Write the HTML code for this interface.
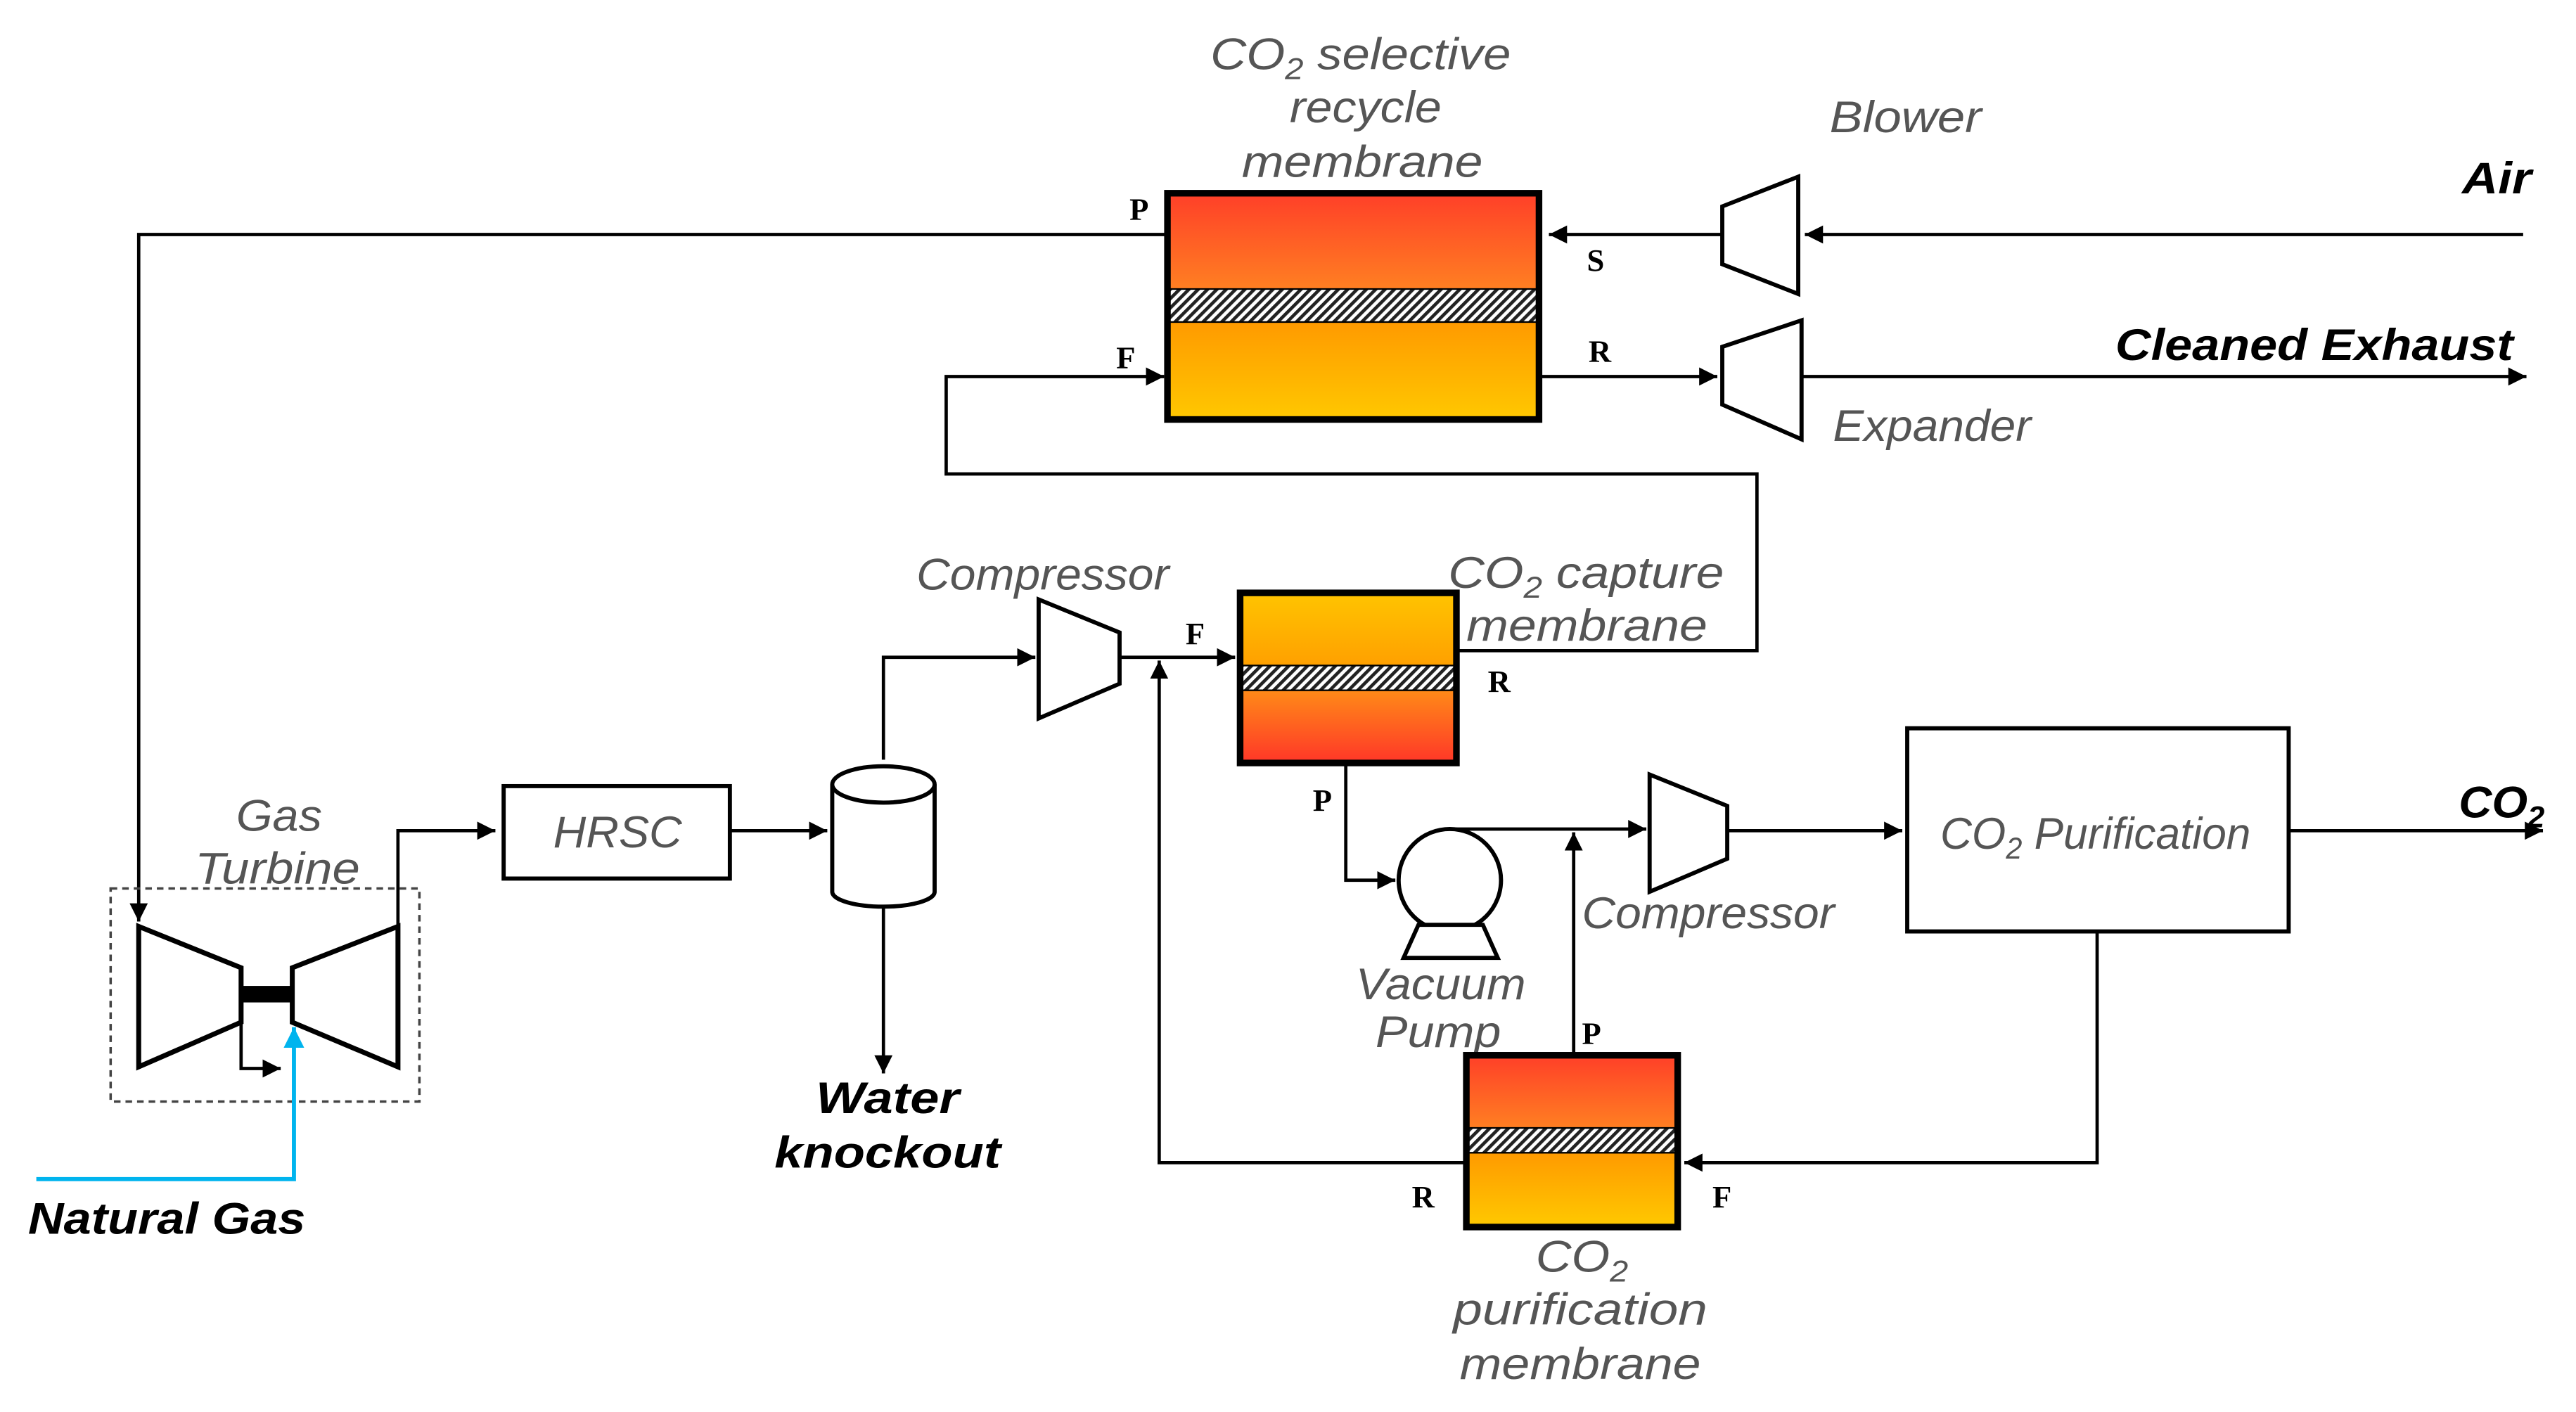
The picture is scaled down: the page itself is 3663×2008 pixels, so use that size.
<!DOCTYPE html>
<html><head><meta charset="utf-8"><style>
html,body{margin:0;padding:0;background:#fff;}
svg{display:block;}
.l{fill:#555;font-family:"Liberation Sans",sans-serif;font-style:italic;font-size:27px;}
.b{fill:#000;font-family:"Liberation Sans",sans-serif;font-style:italic;font-weight:bold;font-size:27px;}
.s{fill:#000;font-family:"Liberation Serif",serif;font-weight:bold;font-size:19px;}
.ln{stroke:#000;stroke-width:2;fill:none;}
.eq{stroke:#000;stroke-width:2.5;fill:#fff;}
.mb{stroke:#000;stroke-width:4;fill:none;}
</style></head><body>
<svg width="3663" height="2008" viewBox="0 0 1560 855" preserveAspectRatio="none" xmlns="http://www.w3.org/2000/svg">
<defs>
<marker id="a" viewBox="0 0 10 10" refX="10" refY="5" markerWidth="5.5" markerHeight="5.5" orient="auto" markerUnits="strokeWidth"><path d="M0,0L10,5L0,10z" fill="#000"/></marker>
<marker id="ab" viewBox="0 0 10 10" refX="10" refY="5" markerWidth="5" markerHeight="5" orient="auto" markerUnits="strokeWidth"><path d="M0,0L10,5L0,10z" fill="#00b4ee"/></marker>
<linearGradient id="red" x1="0" y1="0" x2="0" y2="1"><stop offset="0" stop-color="#ff3f28"/><stop offset="1" stop-color="#ff7f22"/></linearGradient>
<linearGradient id="redu" x1="0" y1="0" x2="0" y2="1"><stop offset="0" stop-color="#ff8a18"/><stop offset="1" stop-color="#ff3628"/></linearGradient>
<linearGradient id="yel" x1="0" y1="0" x2="0" y2="1"><stop offset="0" stop-color="#ff9a00"/><stop offset="1" stop-color="#ffc800"/></linearGradient>
<linearGradient id="yeld" x1="0" y1="0" x2="0" y2="1"><stop offset="0" stop-color="#ffc400"/><stop offset="1" stop-color="#ffa000"/></linearGradient>
<pattern id="h" width="4" height="4" patternUnits="userSpaceOnUse" patternTransform="rotate(45)"><rect width="4" height="4" fill="#fff"/><rect width="2" height="4" fill="#222"/></pattern>
</defs>

<!-- Top selective membrane -->
<rect x="707" y="117" width="225" height="58" fill="url(#red)"/>
<rect x="707" y="175" width="225" height="20" fill="url(#h)"/>
<rect x="707" y="195" width="225" height="59" fill="url(#yel)"/>
<line x1="707" y1="175" x2="932" y2="175" stroke="#000" stroke-width="1"/>
<line x1="707" y1="195" x2="932" y2="195" stroke="#000" stroke-width="1"/>
<rect x="707" y="117" width="225" height="137" class="mb"/>
<text class="l" x="733" y="42" textLength="182" lengthAdjust="spacingAndGlyphs">CO<tspan font-size="18" dy="6">2</tspan><tspan dy="-6"> selective</tspan></text>
<text class="l" x="781" y="74" textLength="92" lengthAdjust="spacingAndGlyphs">recycle</text>
<text class="l" x="752" y="107" textLength="146" lengthAdjust="spacingAndGlyphs">membrane</text>
<text class="s" x="684" y="133">P</text>
<text class="s" x="676" y="223">F</text>
<text class="s" x="961" y="164">S</text>
<text class="s" x="962" y="219">R</text>

<polyline class="ln" points="707,142 84,142 84,558" marker-end="url(#a)"/>
<!-- Blower -->
<polygon class="eq" points="1043,125 1089,107 1089,178 1043,160"/>
<line class="ln" x1="1043" y1="142" x2="938" y2="142" marker-end="url(#a)"/>
<line class="ln" x1="1528" y1="142" x2="1093" y2="142" marker-end="url(#a)"/>
<text class="l" x="1108" y="80" textLength="92" lengthAdjust="spacingAndGlyphs">Blower</text>
<text class="b" x="1491" y="117" textLength="42" lengthAdjust="spacingAndGlyphs">Air</text>
<!-- Expander -->
<polygon class="eq" points="1043,210 1091,194 1091,266 1043,245"/>
<line class="ln" x1="932" y1="228" x2="1040" y2="228" marker-end="url(#a)"/>
<line class="ln" x1="1091" y1="228" x2="1530" y2="228" marker-end="url(#a)"/>
<text class="l" x="1110" y="267" textLength="120" lengthAdjust="spacingAndGlyphs">Expander</text>
<text class="b" x="1281" y="218" textLength="241" lengthAdjust="spacingAndGlyphs">Cleaned Exhaust</text>

<polyline class="ln" points="882,394 1064,394 1064,287 573,287 573,228 705,228" marker-end="url(#a)"/>

<!-- Compressor 1 -->
<polygon class="eq" points="629,363 678,383 678,414 629,435"/>
<polyline class="ln" points="535,460 535,398 627,398" marker-end="url(#a)"/>
<line class="ln" x1="678" y1="398" x2="748" y2="398" marker-end="url(#a)"/>
<text class="l" x="555" y="357" textLength="153" lengthAdjust="spacingAndGlyphs">Compressor</text>
<text class="s" x="718" y="390">F</text>
<polyline class="ln" points="887,704 702,704 702,400" marker-end="url(#a)"/>

<!-- Capture membrane -->
<rect x="751" y="359" width="131" height="44" fill="url(#yeld)"/>
<rect x="751" y="403" width="131" height="15" fill="url(#h)"/>
<rect x="751" y="418" width="131" height="44" fill="url(#redu)"/>
<line x1="751" y1="403" x2="882" y2="403" stroke="#000" stroke-width="1"/>
<line x1="751" y1="418" x2="882" y2="418" stroke="#000" stroke-width="1"/>
<rect x="751" y="359" width="131" height="103" class="mb"/>
<text class="l" x="877" y="356" textLength="167" lengthAdjust="spacingAndGlyphs">CO<tspan font-size="18" dy="6">2</tspan><tspan dy="-6"> capture</tspan></text>
<text class="l" x="888" y="388" textLength="146" lengthAdjust="spacingAndGlyphs">membrane</text>
<text class="s" x="901" y="419">R</text>
<text class="s" x="795" y="491">P</text>

<polyline class="ln" points="815,462 815,533 845,533" marker-end="url(#a)"/>
<ellipse cx="878" cy="533" rx="31" ry="31" class="eq"/>
<polygon class="eq" points="859,560 850,580 907,580 898,560"/>
<polyline class="ln" points="878,502 997,502" marker-end="url(#a)"/>
<line class="ln" x1="953" y1="638" x2="953" y2="504" marker-end="url(#a)"/>
<text class="l" x="821" y="605" textLength="103" lengthAdjust="spacingAndGlyphs">Vacuum</text>
<text class="l" x="833" y="634" textLength="76" lengthAdjust="spacingAndGlyphs">Pump</text>

<!-- Compressor 2 -->
<polygon class="eq" points="999,469 1046,488 1046,520 999,540"/>
<line class="ln" x1="1046" y1="503" x2="1152" y2="503" marker-end="url(#a)"/>
<text class="l" x="958" y="562" textLength="153" lengthAdjust="spacingAndGlyphs">Compressor</text>

<!-- Purification box -->
<rect x="1155" y="441" width="231" height="123" fill="#fff" stroke="#000" stroke-width="2.5"/>
<text class="l" x="1175" y="514" textLength="188" lengthAdjust="spacingAndGlyphs">CO<tspan font-size="18" dy="6">2</tspan><tspan dy="-6"> Purification</tspan></text>
<line class="ln" x1="1386" y1="503" x2="1540" y2="503" marker-end="url(#a)"/>
<text class="b" x="1489" y="495" textLength="52" lengthAdjust="spacingAndGlyphs">CO<tspan font-size="18" dy="6">2</tspan></text>
<polyline class="ln" points="1270,564 1270,704 1020,704" marker-end="url(#a)"/>

<!-- Purification membrane -->
<rect x="888" y="639" width="128" height="44" fill="url(#red)"/>
<rect x="888" y="683" width="128" height="15" fill="url(#h)"/>
<rect x="888" y="698" width="128" height="44" fill="url(#yel)"/>
<line x1="888" y1="683" x2="1016" y2="683" stroke="#000" stroke-width="1"/>
<line x1="888" y1="698" x2="1016" y2="698" stroke="#000" stroke-width="1"/>
<rect x="888" y="639" width="128" height="104" class="mb"/>
<text class="s" x="958" y="632">P</text>
<text class="s" x="855" y="731">R</text>
<text class="s" x="1037" y="731">F</text>
<text class="l" x="930" y="770" textLength="56" lengthAdjust="spacingAndGlyphs">CO<tspan font-size="18" dy="6">2</tspan></text>
<text class="l" x="880" y="802" textLength="154" lengthAdjust="spacingAndGlyphs">purification</text>
<text class="l" x="884" y="835" textLength="146" lengthAdjust="spacingAndGlyphs">membrane</text>

<!-- Gas turbine -->
<rect x="67" y="538" width="187" height="129" fill="none" stroke="#444" stroke-width="1.5" stroke-dasharray="4,3"/>
<text class="l" x="143" y="503" textLength="52" lengthAdjust="spacingAndGlyphs">Gas</text>
<text class="l" x="118" y="535" textLength="100" lengthAdjust="spacingAndGlyphs">Turbine</text>
<polygon points="84,561 146,586 146,619 84,646" fill="#fff" stroke="#000" stroke-width="3"/>
<polygon points="241,561 177,586 177,619 241,646" fill="#fff" stroke="#000" stroke-width="3"/>
<rect x="146" y="597" width="31" height="10" fill="#000"/>
<polyline class="ln" points="146,619 146,647 170,647" marker-end="url(#a)"/>
<polyline points="22,714 178,714 178,622" fill="none" stroke="#00b4ee" stroke-width="2.5" marker-end="url(#ab)"/>
<text class="b" x="17" y="747" textLength="168" lengthAdjust="spacingAndGlyphs">Natural Gas</text>
<polyline class="ln" points="241,561 241,503 300,503" marker-end="url(#a)"/>

<!-- HRSC -->
<rect x="305" y="476" width="137" height="56" fill="#fff" stroke="#000" stroke-width="2.5"/>
<text class="l" x="335" y="513" textLength="78" lengthAdjust="spacingAndGlyphs">HRSC</text>
<line class="ln" x1="442" y1="503" x2="501" y2="503" marker-end="url(#a)"/>

<!-- Drum -->
<path d="M504,475 L504,540 A31,9 0 0 0 566,540 L566,475" fill="#fff" stroke="#000" stroke-width="2.5"/>
<ellipse cx="535" cy="475" rx="31" ry="11" fill="#fff" stroke="#000" stroke-width="2.5"/>
<line class="ln" x1="535" y1="549" x2="535" y2="650" marker-end="url(#a)"/>
<text class="b" x="494" y="674" textLength="87" lengthAdjust="spacingAndGlyphs">Water</text>
<text class="b" x="469" y="707" textLength="137" lengthAdjust="spacingAndGlyphs">knockout</text>
</svg>
</body></html>
